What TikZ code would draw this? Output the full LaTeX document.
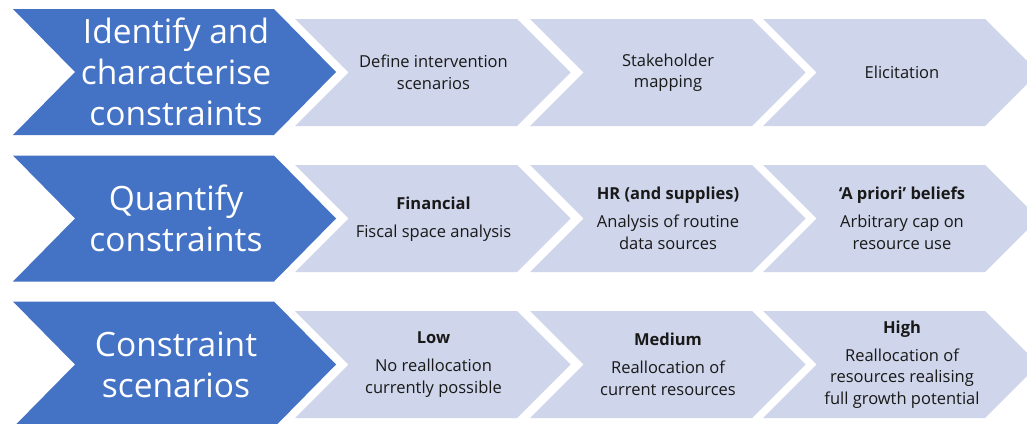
\documentclass[tikz,border=0pt]{standalone}
\usepackage{fontspec}
\setmainfont{Open Sans}
\definecolor{blueC}{HTML}{4472C4}
\definecolor{lightC}{HTML}{CFD5EA}
\newcommand{\mychev}[6]{\fill[#6] (#1,#4-#5) -- (#2,#4-#5) -- (#2+#3,#4) -- (#2,#4+#5) -- (#1,#4+#5) -- (#1+#3,#4) -- cycle;}
\tikzset{
  bluetxt/.style={text=white, font=\fontsize{33.5}{41}\selectfont, align=center, inner sep=0pt},
  lighttxt/.style={text=black!90, font=\fontsize{16.5}{21.5}\selectfont, align=center, inner sep=0pt}
}
\begin{document}
\begin{tikzpicture}[x=1pt,y=-1pt]
\useasboundingbox (0,0) rectangle (1027,423);
\fill[white] (0,0) rectangle (1027,423);
\clip (0,0) rectangle (1027,423);
% row 1
\mychev{13}{274}{62}{72}{63}{blueC}
\mychev{295}{517}{53.5}{72.5}{53.5}{lightC}
\mychev{530}{752}{53.5}{72.5}{53.5}{lightC}
\mychev{763}{985}{53.5}{72.5}{53.5}{lightC}
\node[bluetxt] (b1) at (176,72) {Identify and\\characterise\\constraints};
\node[lighttxt] (t11) at (433.5,72.5) {Define intervention\\scenarios};
\node[lighttxt] (t12) at (668,72.5) {Stakeholder\\mapping};
\node[lighttxt] (t13) at (902,72.5) {Elicitation};
% row 2
\mychev{13}{274}{62}{218.5}{63}{blueC}
\mychev{295}{517}{53.5}{218.5}{53.5}{lightC}
\mychev{530}{752}{53.5}{218.5}{53.5}{lightC}
\mychev{763}{985}{53.5}{218.5}{53.5}{lightC}
\node[bluetxt] (b2) at (176,218.5) {Quantify\\constraints};
\node[lighttxt] (t21) at (433.5,219.5) {\textbf{Financial}\\[6.5pt]Fiscal space analysis};
\node[lighttxt] (t22) at (668,218.5) {\textbf{HR (and supplies)}\\[6.5pt]Analysis of routine\\data sources};
\node[lighttxt] (t23) at (902,218.5) {\textbf{‘A priori’ beliefs}\\[6.5pt]Arbitrary cap on\\resource use};
% row 3
\mychev{13}{274}{62}{364.5}{63}{blueC}
\mychev{295}{517}{53.5}{364.5}{53.5}{lightC}
\mychev{530}{752}{53.5}{364.5}{53.5}{lightC}
\mychev{763}{985}{53.5}{364.5}{53.5}{lightC}
\node[bluetxt] (b3) at (176,364.5) {Constraint\\scenarios};
\node[lighttxt] (t31) at (433.5,364.5) {\textbf{Low}\\[6.5pt]No reallocation\\currently possible};
\node[lighttxt] (t32) at (668,364.5) {\textbf{Medium}\\[6.5pt]Reallocation of\\current resources};
\node[lighttxt] (t33) at (902,364.5) {\textbf{High}\\[6.5pt]Reallocation of\\resources realising\\full growth potential};
\end{tikzpicture}
\end{document}
